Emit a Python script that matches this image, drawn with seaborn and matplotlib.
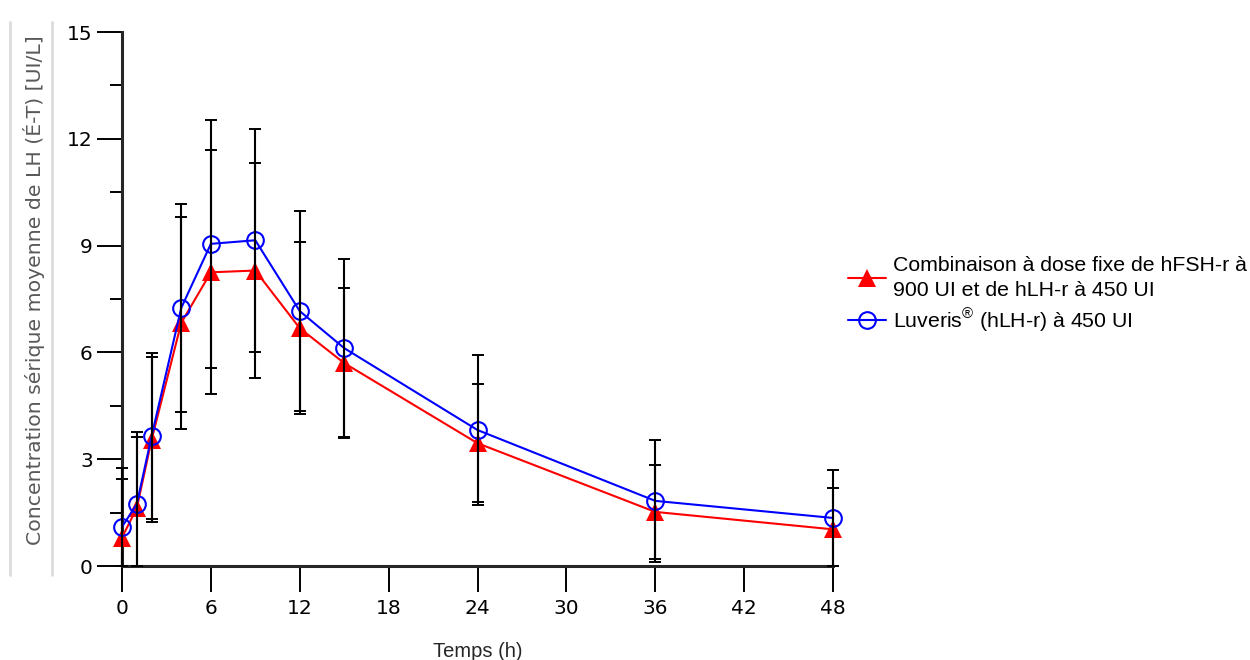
"""
Concentration sérique moyenne de LH (moyenne ± É-T) en fonction du temps.
Combinaison à dose fixe hFSH-r/hLH-r vs Luveris.
"""

import numpy as np
import pandas as pd
import matplotlib
matplotlib.use("Agg")
import matplotlib.pyplot as plt
import seaborn as sns
from matplotlib.lines import Line2D
from matplotlib.ticker import MultipleLocator

# Données
temps = [0, 1, 2, 4, 6, 9, 12, 15, 24, 36, 48]

combi_moy = [0.80, 1.63, 3.55, 6.83, 8.25, 8.30, 6.68, 5.70, 3.45, 1.52, 1.03]
combi_et = [1.65, 2.00, 2.32, 2.97, 3.43, 3.02, 2.42, 2.11, 1.66, 1.32, 1.16]

luveris_moy = [1.10, 1.74, 3.65, 7.25, 9.05, 9.15, 7.16, 6.12, 3.82, 1.83, 1.35]
luveris_et = [1.65, 2.02, 2.33, 2.92, 3.48, 3.13, 2.81, 2.50, 2.11, 1.71, 1.35]

label_combi = "Combinaison à dose fixe de hFSH-r à\n900 UI et de hLH-r à 450 UI"
label_luveris = "Luveris$^{\\mathrm{®}}$ (hLH-r) à 450 UI"

x_ticks = [0, 6, 12, 18, 24, 30, 36, 42, 48]
y_ticks = [0, 3, 6, 9, 12, 15]

sns.set_style("ticks")
plt.rcParams["font.family"] = ["DejaVu Sans"]
plt.rcParams["mathtext.fontset"] = "custom"
plt.rcParams["mathtext.rm"] = "Liberation Sans"
plt.rcParams["text.color"] = "black"
plt.rcParams["xtick.color"] = "black"
plt.rcParams["ytick.color"] = "black"

fig = plt.figure(figsize=(12.5, 6.6), dpi=100)
ax = fig.add_axes([0.0976, 0.1424, 0.5688, 0.8091])

df_combi = pd.DataFrame({"Temps": temps, "LH": combi_moy})
df_luveris = pd.DataFrame({"Temps": temps, "LH": luveris_moy})

sns.lineplot(
    data=df_combi, x="Temps", y="LH", ax=ax, errorbar=None,
    color="#ff0000", lw=1.5, marker="^", markersize=13,
    markerfacecolor="#ff0000", markeredgecolor="#ff0000", markeredgewidth=0,
    label=label_combi, clip_on=False, zorder=3,
)
sns.lineplot(
    data=df_luveris, x="Temps", y="LH", ax=ax, errorbar=None,
    color="#0000ff", lw=1.5, marker="o", markersize=12,
    markerfacecolor="none", markeredgecolor="#0000ff", markeredgewidth=1.5,
    label=label_luveris, clip_on=False, zorder=3,
)

# Barres d'erreur (É-T), coupées à 0
for moy, et in [(combi_moy, combi_et), (luveris_moy, luveris_et)]:
    bas = np.minimum(et, moy)
    eb = ax.errorbar(
        temps, moy, yerr=[bas, et], fmt="none", ecolor="black",
        elinewidth=1.5, capsize=4.5, capthick=1.4, zorder=4,
    )
    for art in eb.lines[1] + eb.lines[2]:
        art.set_clip_on(False)

ax.set_xlim(0, 48)
ax.set_ylim(0, 15)
ax.set_xticks(x_ticks)
ax.set_yticks(y_ticks)
ax.yaxis.set_minor_locator(MultipleLocator(1.5))

sns.despine(ax=ax)
for side in ["left", "bottom"]:
    ax.spines[side].set_linewidth(2.2)

ax.tick_params(axis="y", which="major", direction="out", length=18, width=1.4,
               pad=3, labelsize=14.5)
ax.tick_params(axis="y", which="minor", direction="out", length=9, width=1.4)
ax.tick_params(axis="x", which="major", direction="out", length=19, width=1.4,
               pad=5, labelsize=14.5)

ax.set_xlabel("Temps (h)", family="Liberation Sans", fontsize=14.5, labelpad=17)
ax.set_ylabel("Concentration sérique moyenne de LH (É-T) [UI/L]",
              fontsize=14.7, color="#595959")
ax.yaxis.set_label_coords(-0.108, 0.517)

# Filets gris autour du titre de l'axe y
for xpx in [10, 52]:
    fig.add_artist(Line2D([xpx / 1250, xpx / 1250], [1 - 22 / 660, 1 - 575 / 660],
                          color="#dcdcdc", lw=2))

leg = ax.legend(
    loc="upper left", bbox_to_anchor=(848 / 1250, 1 - 256 / 660),
    bbox_transform=fig.transFigure, frameon=False,
    prop={"family": "Liberation Sans", "size": 15.3},
    handlelength=1.8, handletextpad=0.3, labelspacing=0.3,
    borderaxespad=0, borderpad=0,
)
for txt in leg.get_texts():
    txt.set_linespacing(1.4)

fig.savefig("out.png", dpi=100)
plt.close(fig)
